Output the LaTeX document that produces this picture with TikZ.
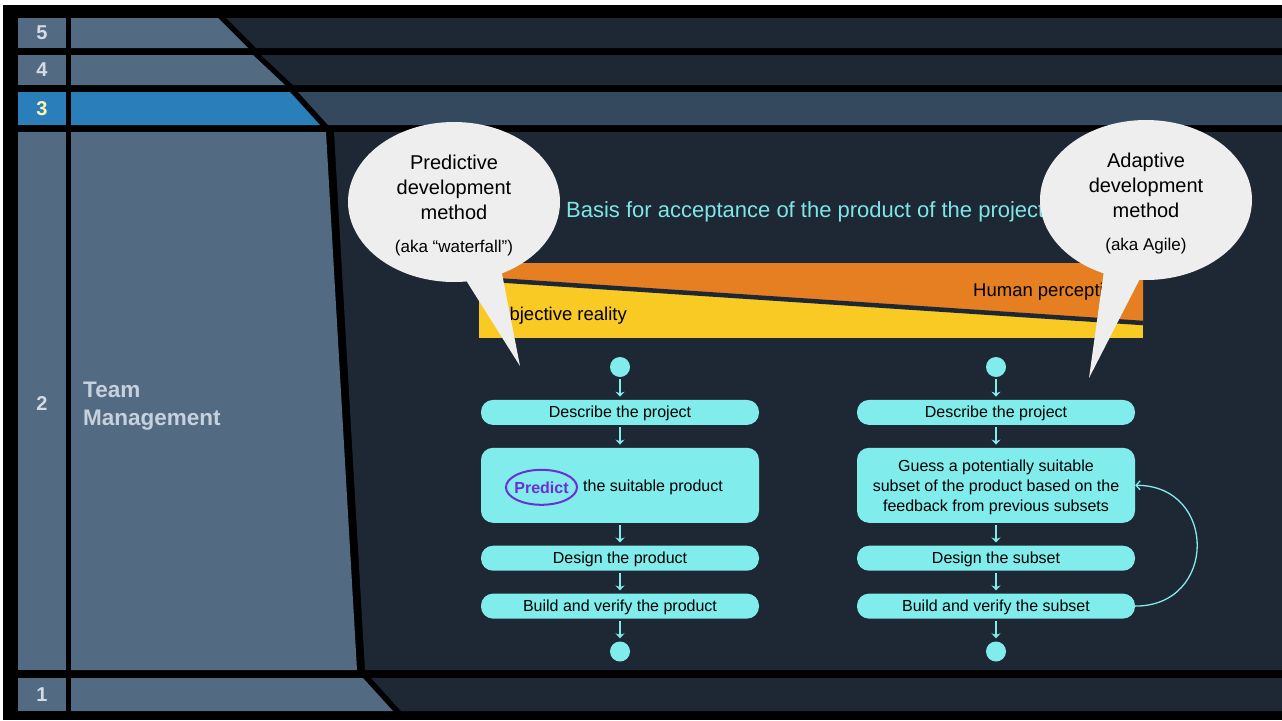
\documentclass[tikz,border=0pt]{standalone}
\usepackage{fontspec}
\setmainfont{Liberation Sans}
\usepackage{tikz}
\usetikzlibrary{
  arrows.meta,
  positioning,
  shapes.geometric,
  shapes.callouts,
  calc
}
\definecolor{tmBlack}{HTML}{000000}
\definecolor{tmGray}{HTML}{536A83}
\definecolor{tmDark}{HTML}{1E2834}
\definecolor{tmMid}{HTML}{34495E}
\definecolor{tmBlue}{HTML}{2A7FBA}
\definecolor{tmNum}{HTML}{D3DCE6}
\definecolor{tmNumHi}{HTML}{FFF6B3}
\definecolor{tmLabel}{HTML}{C6D1DE}
\definecolor{tmCyan}{HTML}{80ECEC}
\definecolor{tmTitle}{HTML}{7EE6E6}
\definecolor{tmOrange}{HTML}{E67E22}
\definecolor{tmYellow}{HTML}{F9CA24}
\definecolor{tmBubble}{HTML}{EEEEEE}
\definecolor{tmPurple}{HTML}{6D2ED9}
\tikzset{
  bandnum/.style={font=\bfseries\fontsize{20}{24}\selectfont, text=tmNum, inner sep=0pt},
  bandlabel/.style={font=\bfseries\fontsize{22.5}{28}\selectfont, text=tmLabel, align=left, anchor=west, inner sep=0pt},
  callout/.style={
    ellipse callout, fill=tmBubble, callout pointer arc=20,
    minimum width=212pt, minimum height=160pt, inner sep=0pt,
    text height=105.5pt, text depth=3.6pt,
    align=center, text=black, font=\fontsize{20}{25}\selectfont
  },
  bartext/.style={font=\fontsize{18.5}{22}\selectfont, text=black, inner sep=0pt, anchor=west},
  stepbase/.style={
    fill=tmCyan, rounded corners=12pt, minimum width=278pt, minimum height=25pt,
    inner sep=2pt, font=\fontsize{16}{20}\selectfont, text=black, align=center
  },
  stepbox/.style={stepbase, text height=11.5pt, text depth=1.5pt},
  bigstep/.style={stepbase, minimum height=75pt, text height=52pt, text depth=0pt},
  flowdot/.style={circle, fill=tmCyan, minimum size=20pt, inner sep=0pt},
  flow/.style={-{Stealth[length=5pt,width=9pt]}, draw=tmCyan, line width=1.3pt, shorten <=2pt, shorten >=3pt},
  loopback/.style={-{Straight Barb[length=4pt,width=9pt]}, draw=tmCyan, line width=1.3pt},
  predictmark/.style={
    ellipse, draw=tmPurple, line width=2pt, inner sep=-2pt,
    minimum width=71pt, minimum height=35pt,
    text=tmPurple, font=\bfseries\fontsize{16}{20}\selectfont
  }
}
\begin{document}
\begin{tikzpicture}[x=1pt, y=-1pt, node distance=22.5pt]
  \useasboundingbox (0,0) rectangle (1282,720);
  \fill[white] (0,0) rectangle (1282,720);
  \fill[tmBlack] (3,5) rectangle (1282,720);
  % layer bands
  \foreach \n/\ya/\yb/\yn/\xa/\xb/\cl/\cr/\ct in {
      5/18/48/33/218/248/tmGray/tmDark/tmNum,
      4/55/85/70/253/285/tmGray/tmDark/tmNum,
      3/92/125/108.5/290/320/tmBlue/tmMid/tmNumHi,
      2/132/670/404/326/357/tmGray/tmDark/tmNum,
      1/678/711/694.5/363/393/tmGray/tmDark/tmNum}{
    \fill[\cl] (18,\ya) rectangle (66,\yb);
    \fill[\cl] (71,\ya) -- (\xa,\ya) -- (\xb,\yb) -- (71,\yb) -- cycle;
    \fill[\cr] (\xa+8,\ya) -- (1282,\ya) -- (1282,\yb) -- (\xb+8,\yb) -- cycle;
    \node[bandnum, text=\ct] (num\n) at (42,\yn) {\n};
  }
  \node[bandlabel] (teamlabel) at (83,406) {Team\\Management};

  % acceptance bar
  \node[font=\fontsize{22}{26}\selectfont, text=tmTitle, anchor=west, inner sep=0pt] (basis) at (566,212)
    {Basis for acceptance of the product of the project};
  \fill[tmYellow] (479,263) rectangle (1143,338);
  \fill[tmOrange] (479,263) -- (1143,263) -- (1143,323) -- (479,279) -- cycle;
  \draw[tmDark, line width=4.5pt] (479,279) -- (1143,323);
  \node[bartext] (reality) at (495,316) {Objective reality};
  \node[bartext] (perception) at (973,292) {Human perception};

  % predictive flow
  \node[flowdot] (lstart) at (620,367) {};
  \node[stepbox, below=of lstart] (ldescribe) {Describe the project};
  \node[bigstep, below=of ldescribe] (lpredict) {};
  \node[stepbox, below=of lpredict] (ldesign) {Design the product};
  \node[stepbox, below=of ldesign] (lbuild) {Build and verify the product};
  \node[flowdot, below=of lbuild] (lend) {};
  \node[font=\fontsize{16}{20}\selectfont, text=black, anchor=west, inner sep=0pt] (lsuitable)
    at ([xshift=-37pt, yshift=-2pt]lpredict.center) {the suitable product};
  \node[predictmark, left=5pt of lsuitable] (predictword) {Predict};

  % adaptive flow
  \node[flowdot] (rstart) at (996,367) {};
  \node[stepbox, below=of rstart] (rdescribe) {Describe the project};
  \node[bigstep, below=of rdescribe] (rguess)
    {Guess a potentially suitable\\subset of the product based on the\\feedback from previous subsets};
  \node[stepbox, below=of rguess] (rdesign) {Design the subset};
  \node[stepbox, below=of rdesign] (rbuild) {Build and verify the subset};
  \node[flowdot, below=of rbuild] (rend) {};

  \foreach \a/\b in {lstart/ldescribe, ldescribe/lpredict, lpredict/ldesign, ldesign/lbuild, lbuild/lend,
                     rstart/rdescribe, rdescribe/rguess, rguess/rdesign, rdesign/rbuild, rbuild/rend}
    \draw[flow] (\a) -- (\b);
  \draw[loopback] (rbuild.east) to[out=0, in=0, looseness=1.75] (rguess.east);

  % speech bubbles
  \node[callout, callout absolute pointer={(520,366)}] (predictive) at (454,202)
    {Predictive\\development\\method\\[8pt]{\fontsize{17}{20}\selectfont (aka “waterfall”)}};
  \node[callout, callout absolute pointer={(1089,378)}] (adaptive) at (1146,200)
    {Adaptive\\development\\method\\[8pt]{\fontsize{17}{20}\selectfont (aka Agile)}};
\end{tikzpicture}
\end{document}
